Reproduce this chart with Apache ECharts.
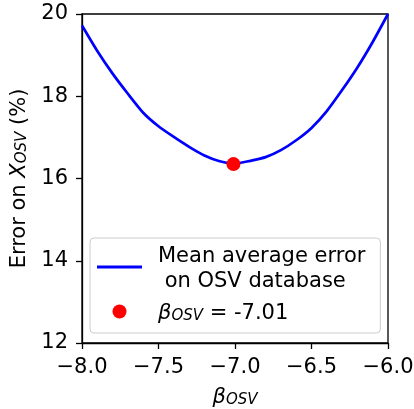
<!DOCTYPE html>
<html>
<head>
<meta charset="utf-8">
<script src="https://cdn.jsdelivr.net/npm/echarts@6/dist/echarts.min.js"></script>
<style>
  html, body { margin: 0; padding: 0; background: #fff; }
  #chart { width: 414px; height: 409px; }
</style>
</head>
<body>
<div id="chart"></div>
<script>
// beta values and mean error (%)
var betaValues = [-8.0, -7.9, -7.8, -7.7, -7.6, -7.5, -7.4, -7.3, -7.2, -7.1, -7.0,
                  -6.9, -6.8, -6.7, -6.6, -6.5, -6.4, -6.3, -6.2, -6.1, -6.0];
var errorValues = [19.72, 19.10, 18.55, 18.06, 17.60, 17.27, 17.01, 16.77, 16.56, 16.42, 16.36,
                   16.43, 16.52, 16.69, 16.93, 17.23, 17.64, 18.15, 18.70, 19.32, 20.0];
// optimum
var bestBeta = [-7.01];
var bestError = [16.35];

var lineName = 'Mean average error\n on OSV database';
var dotName = 'beta';

function makeChart() {
    var myChart = echarts.init(document.getElementById('chart'));
    var font = 'DejaVu Sans';
    var fs = 21;

    var lineData = betaValues.map(function (b, i) { return [b, errorValues[i]]; });
    var dotData = bestBeta.map(function (b, i) { return [b, bestError[i]]; });

    var option = {
        animation: false,
        textStyle: { fontFamily: font },
        grid: {
            left: 82, right: 26, top: 14, bottom: 66,
            outerBoundsMode: 'none',
            containLabel: false,
            show: true,
            borderColor: '#000',
            borderWidth: 1.3,
            backgroundColor: 'transparent'
        },
        xAxis: {
            type: 'value',
            min: -8, max: -6, interval: 0.5,
            axisLine: { show: true, onZero: false, lineStyle: { color: '#000', width: 1.3 } },
            axisTick: { show: true, inside: false, length: 6, lineStyle: { color: '#000', width: 1.3 } },
            splitLine: { show: false },
            axisLabel: {
                color: '#000', fontSize: fs, fontFamily: font, margin: 14,
                formatter: function (v) { return (v < 0 ? '\u2212' : '') + Math.abs(v).toFixed(1); }
            },
            name: '{b|β}{s|OSV}',
            nameLocation: 'middle',
            nameMoveOverlap: false,
            nameGap: 39,
            nameTextStyle: {
                rich: {
                    b: { fontSize: fs, fontStyle: 'italic', fontFamily: font, color: '#000', verticalAlign: 'bottom', lineHeight: 26 },
                    s: { fontSize: 15, fontStyle: 'italic', fontFamily: font, color: '#000', verticalAlign: 'bottom', padding: [9, 0, 0, 0] }
                }
            }
        },
        yAxis: {
            type: 'value',
            min: 12, max: 20, interval: 2,
            axisLine: { show: true, onZero: false, lineStyle: { color: '#000', width: 1.3 } },
            axisTick: { show: true, inside: false, length: 6, lineStyle: { color: '#000', width: 1.3 } },
            splitLine: { show: false },
            axisLabel: { color: '#000', fontSize: fs, fontFamily: font, margin: 14 },
            name: '{n|Error on }{x|X}{s|OSV}{n| (%)}',
            nameLocation: 'middle',
            nameMoveOverlap: false,
            nameRotate: 90,
            nameGap: 52,
            nameTextStyle: {
                rich: {
                    n: { fontSize: fs, fontFamily: font, color: '#000', verticalAlign: 'bottom', lineHeight: 25 },
                    x: { fontSize: fs, fontStyle: 'italic', fontFamily: font, color: '#000', verticalAlign: 'bottom', lineHeight: 25 },
                    s: { fontSize: 15, fontStyle: 'italic', fontFamily: font, color: '#000', verticalAlign: 'bottom', padding: [9, 0, 0, 0] }
                }
            }
        },
        legend: {
            orient: 'vertical',
            left: 90, top: 238,
            padding: [8, 15, 9, 7],
            itemWidth: 45,
            itemHeight: 14,
            itemGap: 11,
            backgroundColor: 'rgba(255,255,255,0.8)',
            borderColor: '#cccccc',
            borderWidth: 1,
            borderRadius: 4,
            data: [
                { name: lineName, icon: 'path://M0,0 L45,0 L45,2.8 L0,2.8 Z', itemStyle: { color: '#0000ff' } },
                { name: dotName, icon: 'circle', itemStyle: { color: '#ff0000', opacity: 1 } }
            ],
            formatter: function (name) {
                if (name === dotName) {
                    return '{b|β}{s|OSV}{n| = -7.01}';
                }
                return '{n|' + name.replace('\n', '}\n{n|') + '}';
            },
            textStyle: {
                padding: [0, 0, 0, 11],
                rich: {
                    n: { fontSize: fs, fontFamily: font, color: '#000', lineHeight: 25, verticalAlign: 'bottom' },
                    b: { fontSize: fs, fontStyle: 'italic', fontFamily: font, color: '#000', lineHeight: 25, verticalAlign: 'bottom' },
                    s: { fontSize: 15, fontStyle: 'italic', fontFamily: font, color: '#000', verticalAlign: 'bottom', padding: [9, 0, 0, 0] }
                }
            }
        },
        series: [
            {
                name: lineName,
                type: 'line',
                data: lineData,
                symbol: 'none',
                smooth: 0.2,
                lineStyle: { color: '#0000ff', width: 2.7 },
                itemStyle: { color: '#0000ff' },
                z: 2
            },
            {
                name: dotName,
                type: 'scatter',
                data: dotData,
                symbol: 'circle',
                symbolSize: 14,
                itemStyle: { color: '#ff0000', opacity: 1 },
                z: 3
            }
        ]
    };

    myChart.setOption(option, true);
    return myChart;
}

window.onload = function () {
    makeChart();
};
</script>
</body>
</html>
